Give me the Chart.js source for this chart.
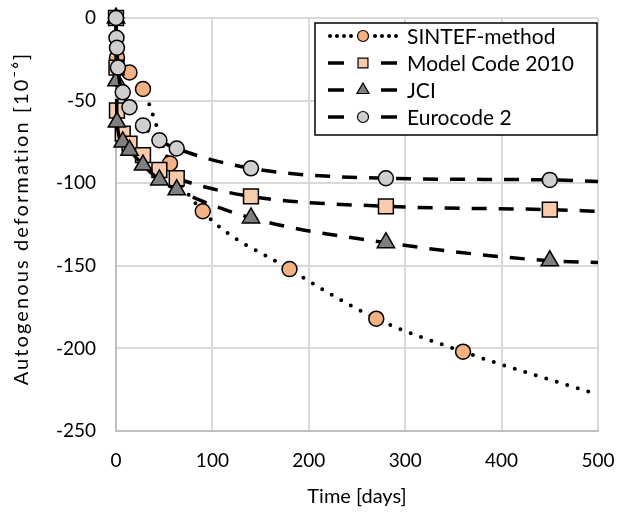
<!DOCTYPE html>
<html>
<head>
<meta charset="utf-8">
<script src="https://cdn.jsdelivr.net/npm/chart.js@4"></script>
<style>
  html, body { margin: 0; padding: 0; background: #fff; }
  #wrap { width: 619px; height: 513px; }
</style>
</head>
<body>
<div id="wrap"><canvas id="chart" width="619" height="513"></canvas></div>
<script>
// Data
const seriesNames = ['SINTEF-method', 'Model Code 2010', 'JCI', 'Eurocode 2'];

const sintefDays = [0, 1, 14, 28, 56, 90, 180, 270, 360];
const sintefVals = [0, -24, -33, -43, -88, -117, -152, -182, -202];

const mcDays = [0, 0.5, 1, 7, 14, 28, 45, 63, 140, 280, 450];
const mcVals = [0, -30, -56, -70, -76, -83, -92, -97, -108, -114, -116];

const jciDays = [0, 0.5, 1, 7, 14, 28, 45, 63, 140, 280, 450];
const jciVals = [0, -38, -63, -75, -80, -89, -98, -104, -121, -136, -147];

const ecDays = [0, 0.5, 1, 2, 7, 14, 28, 45, 63, 140, 280, 450];
const ecVals = [0, -12, -18, -30, -45, -54, -65, -74, -79, -91, -97, -98];

// curves continue to the end of the axis without a marker
const curveEndDay = 500;
const curveEndVals = [-228, -117, -148, -99];

const xTicks = [0, 100, 200, 300, 400, 500];
const yTicks = [0, -50, -100, -150, -200, -250];

const yTitle = 'Autogenous deformation [10⁻⁶]';
const FONT = 'Lato, "Open Sans", sans-serif';

// build {x,y} points, marker points plus the unmarked end of the curve
function toPoints(days, vals, endVal) {
    const pts = days.map((d, i) => ({ x: d, y: vals[i] }));
    pts.push({ x: curveEndDay, y: endVal });
    return pts;
}

const styles = [
    { fill: '#F4B183', shape: 'circle', r: 7.5, dash: [0, 11], width: 4, cap: 'round', order: 4 },
    { fill: '#F8CBAD', shape: 'rect', r: 10.5, dash: [15, 12], width: 3.5, cap: 'butt', order: 3 },
    { fill: '#7F7F7F', shape: 'triangle', r: 10, dash: [15, 12], width: 3.5, cap: 'butt', order: 2 },
    { fill: '#D0CECE', shape: 'circle', r: 7.5, dash: [15, 12], width: 3.5, cap: 'butt', order: 1 }
];

const allDays = [sintefDays, mcDays, jciDays, ecDays];
const allVals = [sintefVals, mcVals, jciVals, ecVals];

const datasets = seriesNames.map((name, i) => {
    const s = styles[i];
    const pts = toPoints(allDays[i], allVals[i], curveEndVals[i]);
    return {
        label: name,
        data: pts,
        showLine: true,
        cubicInterpolationMode: 'monotone',
        borderColor: '#000',
        borderWidth: s.width,
        borderDash: s.dash,
        borderCapStyle: s.cap,
        pointStyle: s.shape,
        pointRadius: pts.map(p => p.x === curveEndDay ? 0 : s.r),
        pointHoverRadius: pts.map(p => p.x === curveEndDay ? 0 : s.r),
        pointBackgroundColor: s.fill,
        pointBorderColor: '#000',
        pointBorderWidth: 1.5,
        order: s.order,
        clip: false
    };
});

// Excel-like legend box and the rotated y title
const extras = {
    id: 'extras',
    afterDatasetsDraw(chart) {
        const ctx = chart.ctx;
        const area = chart.chartArea;

        // y axis title, a little letter spacing like the original
        ctx.save();
        ctx.translate(22, (area.top + area.bottom) / 2 - 6);
        ctx.rotate(-Math.PI / 2);
        ctx.font = '20px ' + FONT;
        ctx.letterSpacing = '2.1px';
        ctx.fillStyle = '#000';
        ctx.textAlign = 'center';
        ctx.textBaseline = 'middle';
        ctx.fillText(yTitle, 0, 0);
        ctx.restore();

        const left = 315, top = 23, right = 597, bottom = 135;
        ctx.save();
        ctx.fillStyle = '#fff';
        ctx.fillRect(left, top, right - left, bottom - top);
        ctx.strokeStyle = '#000';
        ctx.lineWidth = 1.5;
        ctx.strokeRect(left, top, right - left, bottom - top);

        ctx.font = '21px ' + FONT;
        ctx.textBaseline = 'middle';
        ctx.textAlign = 'left';
        seriesNames.forEach((name, i) => {
            const s = styles[i];
            const y = 36 + i * 27;
            const mx = 363;
            ctx.strokeStyle = '#000';
            ctx.setLineDash([]);
            if (i === 0) {
                ctx.fillStyle = '#000';
                [330, 337, 344, 351, 375, 382, 389, 396].forEach(dx => {
                    ctx.beginPath();
                    ctx.arc(dx, y, 2, 0, Math.PI * 2);
                    ctx.fill();
                });
            } else {
                ctx.lineWidth = 3.5;
                ctx.beginPath();
                ctx.moveTo(328, y); ctx.lineTo(344, y);
                ctx.moveTo(381, y); ctx.lineTo(397, y);
                ctx.stroke();
            }
            ctx.fillStyle = s.fill;
            ctx.strokeStyle = '#000';
            ctx.lineWidth = 1.2;
            ctx.beginPath();
            Chart.helpers.drawPoint(ctx, {
                pointStyle: s.shape,
                radius: s.shape === 'circle' ? 5.5 : 7,
                borderWidth: 1.2,
                rotation: 0
            }, mx, y);
            ctx.fillStyle = '#000';
            ctx.fillText(name, 407, y + 1);
        });
        ctx.restore();
    }
};

const ctx = document.getElementById('chart').getContext('2d');
new Chart(ctx, {
    type: 'scatter',
    data: { datasets: datasets },
    options: {
        responsive: false,
        animation: false,
        layout: { padding: { top: 18, right: 21, left: 0, bottom: 0 } },
        scales: {
            x: {
                type: 'linear',
                min: xTicks[0],
                max: xTicks[xTicks.length - 1],
                afterBuildTicks: s => { s.ticks = xTicks.map(v => ({ value: v })); },
                // fixed plot box: drop the label overhang padding chart.js adds
                afterFit: s => { s.height = 82; s.paddingLeft = 0; s.paddingRight = 0; },
                ticks: { padding: 18, color: '#000', font: { family: FONT, size: 19 } },
                grid: { color: '#D9D9D9', lineWidth: 2, drawTicks: false },
                border: { color: '#BFBFBF', width: 2 },
                title: {
                    display: true,
                    text: 'Time [days]',
                    color: '#000',
                    font: { family: FONT, size: 20 },
                    padding: { top: 0, bottom: 4 }
                }
            },
            y: {
                type: 'linear',
                min: yTicks[yTicks.length - 1],
                max: yTicks[0],
                afterBuildTicks: s => { s.ticks = yTicks.map(v => ({ value: v })).reverse(); },
                afterFit: s => { s.width = 116; s.paddingTop = 0; s.paddingBottom = 0; },
                ticks: { padding: 20, color: '#000', font: { family: FONT, size: 19 } },
                grid: { color: '#D9D9D9', lineWidth: 2, drawTicks: false },
                border: { color: '#BFBFBF', width: 2 }
            }
        },
        plugins: {
            legend: { display: false },
            tooltip: { enabled: false }
        }
    },
    plugins: [extras]
});
</script>
</body>
</html>
